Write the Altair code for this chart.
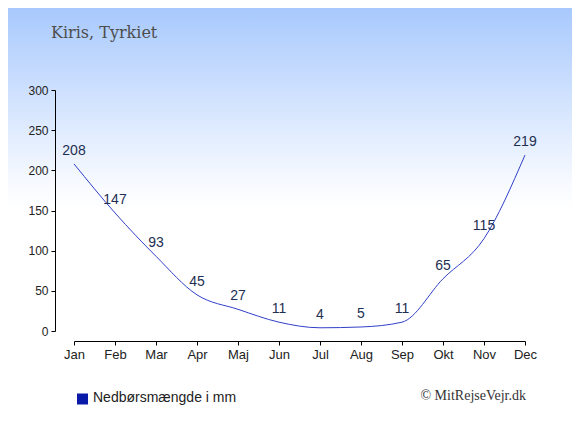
import altair as alt
import pandas as pd

months = ["Jan", "Feb", "Mar", "Apr", "Maj", "Jun", "Jul", "Aug", "Sep", "Okt", "Nov", "Dec"]
rain = [208, 147, 93, 45, 27, 11, 4, 5, 11, 65, 115, 219]
title_text = "Kiris, Tyrkiet"
legend_text = "Nedbørsmængde i mm"
credit_text = "© MitRejseVejr.dk"
y_ticks = [0, 50, 100, 150, 200, 250, 300]

df = pd.DataFrame({"month": months, "rain": rain})

W, H = 451, 241
PL, PT, PR, PB = 66, 82, 47, 96

one = alt.Data(values=[{"k": 1}])

bg = alt.Chart(one).mark_rect(
    color=alt.Gradient(
        gradient="linear",
        stops=[
            alt.GradientStop(color="#a8c9fd", offset=0),
            alt.GradientStop(color="#f4f8ff", offset=0.40),
            alt.GradientStop(color="#ffffff", offset=0.48),
            alt.GradientStop(color="#ffffff", offset=1),
        ],
        x1=0, x2=0, y1=0, y2=1,
    )
).encode(
    x=alt.value(-PL), x2=alt.value(W + PR),
    y=alt.value(-PT), y2=alt.value(H + PB),
)

xenc = alt.X(
    "month:O", sort=months, title=None,
    scale=alt.Scale(type="point", padding=0),
    axis=alt.Axis(offset=10, labelAngle=0, domainColor="#000", tickColor="#000",
                  labelFont="Liberation Sans", labelFontSize=13, labelColor="#222",
                  labelPadding=3, tickSize=4, grid=False, zindex=2),
)
yenc = alt.Y(
    "rain:Q", title=None,
    scale=alt.Scale(domain=[0, 300], nice=False),
    axis=alt.Axis(offset=19, values=y_ticks, domainColor="#000", tickColor="#000",
                  labelFont="Liberation Sans", labelFontSize=12, labelColor="#222",
                  labelPadding=3, tickSize=4, grid=False, zindex=2),
)

line = alt.Chart(df).mark_line(
    interpolate="monotone", color="#3040c8", strokeWidth=1
).encode(x=xenc, y=yenc)

labels = alt.Chart(df).mark_text(
    font="Liberation Sans", fontSize=14, color="#1e2f52", dy=-9, baseline="alphabetic"
).encode(x=alt.X("month:O", sort=months), y="rain:Q", text="rain:Q")

title = alt.Chart(one).mark_text(
    text=title_text, font="DejaVu Serif", fontSize=16, color="#4d4d4d",
    align="left", baseline="alphabetic"
).encode(x=alt.value(-23), y=alt.value(-52))

legend_sq = alt.Chart(one).mark_square(
    size=121, color="#0a1aa8", opacity=1, filled=True
).encode(x=alt.value(8.5), y=alt.value(309))

legend_txt = alt.Chart(one).mark_text(
    text=legend_text, font="Liberation Sans", fontSize=14, color="#222",
    align="left", baseline="middle"
).encode(x=alt.value(19), y=alt.value(308))

credit = alt.Chart(one).mark_text(
    text=credit_text, font="Liberation Serif", fontSize=14, color="#333",
    align="right", baseline="alphabetic"
).encode(x=alt.value(452), y=alt.value(310))

chart = alt.layer(bg, line, labels, title, legend_sq, legend_txt, credit).properties(
    width=W, height=H,
    autosize=alt.AutoSizeParams(type="none"),
    padding={"left": PL, "top": PT, "right": PR, "bottom": PB},
).configure_view(stroke=None)

chart.save("out.html", embed_options={"renderer": "svg", "actions": False})
